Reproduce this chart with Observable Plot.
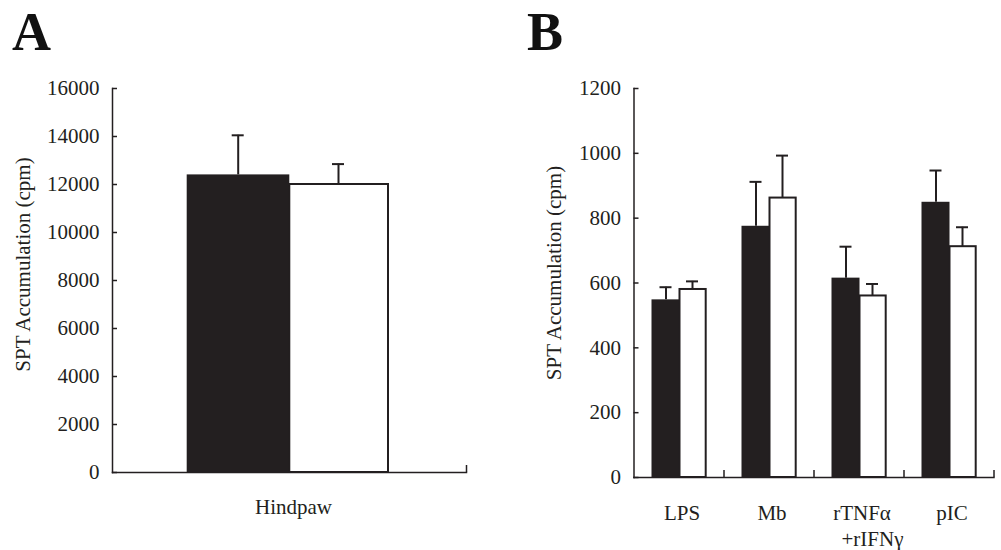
<!DOCTYPE html>
<html>
<head>
<meta charset="utf-8">
<script src="https://cdn.jsdelivr.net/npm/d3@7"></script>
<script src="https://cdn.jsdelivr.net/npm/@observablehq/plot@0.6"></script>
<style>
  body { margin: 0; background: #fff; }
  #wrap { position: relative; width: 1001px; height: 550px; overflow: hidden; font-family: "Liberation Serif", "DejaVu Serif", serif; }
  .panel { position: absolute; top: 0; }
  .letter { position: absolute; top: 0.5px; font: bold 54px "Liberation Serif", serif; line-height: normal; color: #111; }
</style>
</head>
<body>
<div id="wrap">
  <div class="letter" style="left:12px">A</div>
  <div class="letter" style="left:527px">B</div>
  <div id="pa" class="panel" style="left:0px"></div>
  <div id="pb" class="panel" style="left:500px"></div>
</div>
<script>
// ---------- Data ----------
const yTitle = "SPT Accumulation (cpm)";

// Panel A
const catsA = ["Hindpaw"];
const tickLabelsA = ["Hindpaw"];
const blackA = [12400];
const blackErrA = [14050];
const whiteA = [12000];
const whiteErrA = [12850];
const yTicksA = [0, 2000, 4000, 6000, 8000, 10000, 12000, 14000, 16000];

// Panel B
const catsB = ["LPS", "Mb", "rTNFα+rIFNγ", "pIC"];
const tickLabelsB = ["LPS", "Mb", "rTNFα\n\u00a0\u00a0\u00a0\u00a0+rIFNγ", "pIC"];
const blackB = [548, 775, 615, 849];
const blackErrB = [587, 912, 712, 947];
const whiteB = [580, 862, 560, 712];
const whiteErrB = [605, 993, 597, 772];
const yTicksB = [0, 200, 400, 600, 800, 1000, 1200];

// ---------- Drawing ----------
const INK = "#231f20";
const FONT = "Liberation Serif, serif";

function panel(o) {
  const innerW = o.width - o.marginLeft - o.marginRight;
  const innerH = o.height - o.marginTop - o.marginBottom;
  const step = innerW / o.cats.length;
  const rows = o.cats.map((c, i) => ({cat: c, b: o.black[i], be: o.blackErr[i], w: o.white[i], we: o.whiteErr[i]}));
  const labelOf = new Map(o.cats.map((c, i) => [c, o.labels[i]]));
  const g = o.geom;
  const cap = 6;
  return Plot.plot({
    width: o.width,
    height: o.height,
    marginLeft: o.marginLeft,
    marginRight: o.marginRight,
    marginTop: o.marginTop,
    marginBottom: o.marginBottom,
    style: {fontFamily: FONT, fontSize: "21px", color: INK, background: "transparent"},
    x: {type: "band", domain: o.cats, padding: 0, round: false, label: null},
    y: {domain: [0, o.yMax], label: null},
    marks: [
      Plot.barY(rows, {x: "cat", y: "b", fill: INK, insetLeft: g.bL, insetRight: step - g.bR}),
      Plot.barY(rows, {x: "cat", y: "w", fill: "white", stroke: INK, strokeWidth: 2, insetLeft: g.wL, insetRight: step - g.wR}),
      Plot.ruleX(rows, {x: "cat", y1: "b", y2: "be", stroke: INK, strokeWidth: 2, dx: g.bC - step / 2}),
      Plot.tickY(rows, {x: "cat", y: "be", stroke: INK, strokeWidth: 2, insetLeft: g.bC - cap, insetRight: step - g.bC - cap}),
      Plot.ruleX(rows, {x: "cat", y1: "w", y2: "we", stroke: INK, strokeWidth: 2, dx: g.wC - step / 2}),
      Plot.tickY(rows, {x: "cat", y: "we", stroke: INK, strokeWidth: 2, insetLeft: g.wC - cap, insetRight: step - g.wC - cap}),
      Plot.frame({anchor: "left", stroke: INK, strokeWidth: 1.5}),
      Plot.frame({anchor: "bottom", stroke: INK, strokeWidth: 1.5}),
      Plot.tickY(o.yTicks, {y: d => d, stroke: INK, strokeWidth: 1.5, insetRight: innerW - 5}),
      Plot.tickX(o.cats, {x: d => d, dx: step / 2, stroke: INK, strokeWidth: 1.5, insetTop: innerH - 7}),
      Plot.axisY({ticks: o.yTicks, tickSize: 0, tickPadding: 13, tickFormat: d => String(d), fill: INK, fontSize: 21, label: null}),
      Plot.axisX({tickSize: 0, tickPadding: o.xPad, dx: o.xDx, tickFormat: d => labelOf.get(d), fill: INK, fontSize: 21, lineHeight: 1.2, label: null}),
      Plot.text([yTitle], {text: d => d, frameAnchor: "left", textAnchor: "middle", rotate: -90, dx: o.titleDx, dy: o.titleDy, fontSize: 21, fill: INK})
    ]
  });
}

document.getElementById("pa").append(panel({
  cats: catsA, labels: tickLabelsA, black: blackA, blackErr: blackErrA, white: whiteA, whiteErr: whiteErrA,
  yTicks: yTicksA, yMax: 16000,
  width: 500, height: 550, marginLeft: 112, marginRight: 34, marginTop: 88, marginBottom: 78,
  geom: {bL: 74.7, bR: 177.3, wL: 177.3, wR: 276, bC: 125.7, wC: 226},
  xPad: 24, xDx: 4, titleDx: -89.5, titleDy: -16
}));

document.getElementById("pb").append(panel({
  cats: catsB, labels: tickLabelsB, black: blackB, blackErr: blackErrB, white: whiteB, whiteErr: whiteErrB,
  yTicks: yTicksB, yMax: 1200,
  width: 501, height: 550, marginLeft: 133.5, marginRight: 7.5, marginTop: 88, marginBottom: 73,
  geom: {bL: 18, bR: 46, wL: 46, wR: 72.2, bC: 32, wC: 58.5},
  xPad: 25, xDx: 3, titleDx: -79.5, titleDy: -10
}));
</script>
</body>
</html>
